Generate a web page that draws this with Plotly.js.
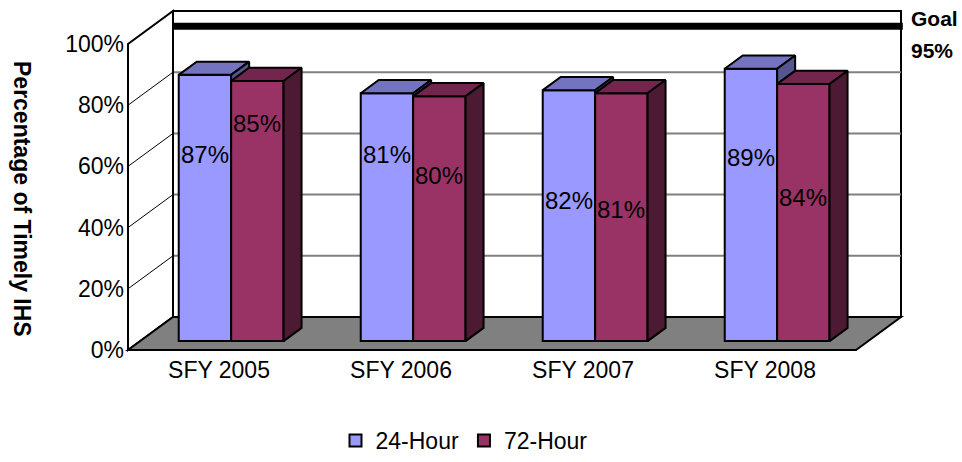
<!DOCTYPE html>
<html><head><meta charset="utf-8">
<script src="https://cdn.plot.ly/plotly-3.0.1.min.js"></script>
<style>html,body{margin:0;padding:0;background:#fff}#chart{width:962px;height:462px}</style>
</head><body><div id="chart"></div>
<script>
// ---- data ----
const categories = ['SFY 2005', 'SFY 2006', 'SFY 2007', 'SFY 2008'];
const hours24 = [87, 81, 82, 89];
const hours72 = [85, 80, 81, 84];
const seriesNames = ['24-Hour', '72-Hour'];
const goalValue = 95;
const yTicks = [0, 20, 40, 60, 80, 100];
// height (in % units along the bar) where each data label sits in the reference
const labelAt24 = [61, 61, 46, 60];
const labelAt72 = [71, 54, 43, 47];

// ---- geometry / style ----
const W = 962, H = 462;
const ML = 125, MR = 57, MT = 8, MB = 108;
const PX_PER_X = 182, PX_PER_Y = 3.06;
const X0PX = 128, Y0PX = 350;
const xRange = [(ML - X0PX) / PX_PER_X, (W - MR - X0PX) / PX_PER_X];
const yRange = [-(H - MB - Y0PX) / PX_PER_Y, (Y0PX - MT) / PX_PER_Y];
const DX = 45 / PX_PER_X, DY = 33 / PX_PER_Y;     // full floor depth
const BAR_Z0 = 0.27, BAR_DZ = 0.4, BAR_W = 0.288;
const bx = BAR_Z0 * DX, by = BAR_Z0 * DY;         // bar front-plane offset
const ddx = BAR_DZ * DX, ddy = BAR_DZ * DY;       // bar depth offset
const FONT = 'Liberation Sans, Arial, sans-serif';
const col = {
  bFront: '#9999FF', bTop: '#7373C0', bSide: '#55558F',
  rFront: '#993366', rTop: '#73264D', rSide: '#4D1A33',
  floor: '#808080', grid: '#808080'
};
const n = categories.length;
const centers = categories.map((c, i) => i + 0.5 + bx);

const traces = [];
traces.push({type: 'bar', name: seriesNames[0], x: centers, y: hours24, base: by,
  marker: {color: col.bFront, line: {color: '#000', width: 2}}, hoverinfo: 'skip'});
traces.push({type: 'bar', name: seriesNames[1], x: centers, y: hours72, base: by,
  marker: {color: col.rFront, line: {color: '#000', width: 2}}, hoverinfo: 'skip'});

function poly(xs, ys, fill) {
  return {type: 'scatter', mode: 'lines', x: xs.concat([xs[0]]), y: ys.concat([ys[0]]),
    fill: 'toself', fillcolor: fill, line: {color: '#000', width: 2},
    showlegend: false, hoverinfo: 'skip'};
}
for (let i = 0; i < n; i++) {
  const x0 = centers[i] - BAR_W, x1 = centers[i], x2 = centers[i] + BAR_W;
  const tb = by + hours24[i], tr = by + hours72[i];
  traces.push(poly([x0, x1, x1 + ddx, x0 + ddx], [tb, tb, tb + ddy, tb + ddy], col.bTop));
  if (hours24[i] > hours72[i]) {
    traces.push(poly([x1, x1, x1 + ddx, x1 + ddx], [tr, tb, tb + ddy, tr + ddy], col.bSide));
  }
  traces.push(poly([x1, x2, x2 + ddx, x1 + ddx], [tr, tr, tr + ddy, tr + ddy], col.rTop));
  traces.push(poly([x2, x2, x2 + ddx, x2 + ddx], [by, tr, tr + ddy, by + ddy], col.rSide));
}

// ---- walls, floor, gridlines ----
const shapes = [];
const xr = n;
shapes.push({type: 'rect', layer: 'below', xref: 'x', yref: 'y', x0: DX, x1: xr + DX, y0: DY, y1: DY + 100,
  fillcolor: '#fff', line: {color: '#000', width: 2}});
yTicks.slice(1, -1).forEach(t => {
  shapes.push({type: 'line', layer: 'below', xref: 'x', yref: 'y', x0: DX, x1: xr + DX, y0: DY + t, y1: DY + t,
    line: {color: col.grid, width: 2}});
});
shapes.push({type: 'path', layer: 'below', xref: 'x', yref: 'y',
  path: `M0,0 L0,100 L${DX},${DY + 100} L${DX},${DY} Z`, fillcolor: '#fff', line: {color: '#000', width: 2}});
yTicks.slice(1, -1).forEach(t => {
  shapes.push({type: 'line', layer: 'below', xref: 'x', yref: 'y', x0: 0, x1: DX, y0: t, y1: DY + t,
    line: {color: '#000', width: 1}});
});
shapes.push({type: 'path', layer: 'below', xref: 'x', yref: 'y',
  path: `M0,0 L${xr},0 L${xr + DX},${DY} L${DX},${DY} Z`, fillcolor: col.floor, line: {color: '#000', width: 2}});
shapes.push({type: 'line', layer: 'below', xref: 'x', yref: 'y', x0: DX, x1: xr + DX + 0.01, y0: DY + goalValue, y1: DY + goalValue,
  line: {color: '#000', width: 7}});

// ---- annotations ----
const annotations = [];
for (let i = 0; i < n; i++) {
  annotations.push({xref: 'x', yref: 'y', x: centers[i] - BAR_W / 2, y: by + labelAt24[i], text: hours24[i] + '%',
    showarrow: false, font: {family: FONT, size: 24, color: '#000'}});
  annotations.push({xref: 'x', yref: 'y', x: centers[i] + BAR_W / 2, y: by + labelAt72[i], text: hours72[i] + '%',
    showarrow: false, font: {family: FONT, size: 24, color: '#000'}});
}
const plotW = W - ML - MR, plotH = H - MT - MB;
annotations.push({xref: 'paper', yref: 'paper', x: (22 - ML) / plotW, y: (H - MB - 199) / plotH,
  xanchor: 'center', yanchor: 'middle', textangle: 90, showarrow: false,
  text: '<b>Percentage of Timely IHS</b>', font: {family: FONT, size: 23, color: '#000'}});
annotations.push({xref: 'paper', yref: 'paper', x: (909 - ML) / plotW, y: (H - MB - 19) / plotH,
  xanchor: 'left', yanchor: 'middle', showarrow: false,
  text: '<b>Goal</b>', font: {family: FONT, size: 21, color: '#000'}});
annotations.push({xref: 'paper', yref: 'paper', x: (909 - ML) / plotW, y: (H - MB - 50) / plotH,
  xanchor: 'left', yanchor: 'middle', showarrow: false,
  text: '<b>' + goalValue + '%</b>', font: {family: FONT, size: 21, color: '#000'}});

const layout = {
  width: W, height: H,
  margin: {l: ML, r: MR, t: MT, b: MB, pad: 0, autoexpand: false},
  paper_bgcolor: '#fff', plot_bgcolor: 'rgba(0,0,0,0)',
  font: {family: FONT, color: '#000'},
  barmode: 'group', bargap: 1 - 2 * BAR_W, bargroupgap: 0,
  xaxis: {range: xRange, tickvals: categories.map((c, i) => i + 0.5), ticktext: categories,
    showgrid: false, zeroline: false, showline: false, ticks: '', fixedrange: true, automargin: false,
    tickfont: {family: FONT, size: 23, color: '#000'}},
  yaxis: {range: yRange, tickvals: yTicks, ticktext: yTicks.map(t => t + '%'),
    showgrid: false, zeroline: false, showline: false, ticks: '', fixedrange: true, automargin: false,
    tickfont: {family: FONT, size: 23, color: '#000'}},
  showlegend: true,
  legend: {orientation: 'h', xref: 'container', yref: 'container', x: 464 / W, xanchor: 'center',
    y: 0, yanchor: 'bottom',
    font: {family: FONT, size: 23, color: '#000'}, itemwidth: 30, bgcolor: 'rgba(0,0,0,0)'},
  shapes: shapes,
  annotations: annotations
};
Plotly.newPlot('chart', traces, layout, {displayModeBar: false, staticPlot: true});
</script>
</body></html>
